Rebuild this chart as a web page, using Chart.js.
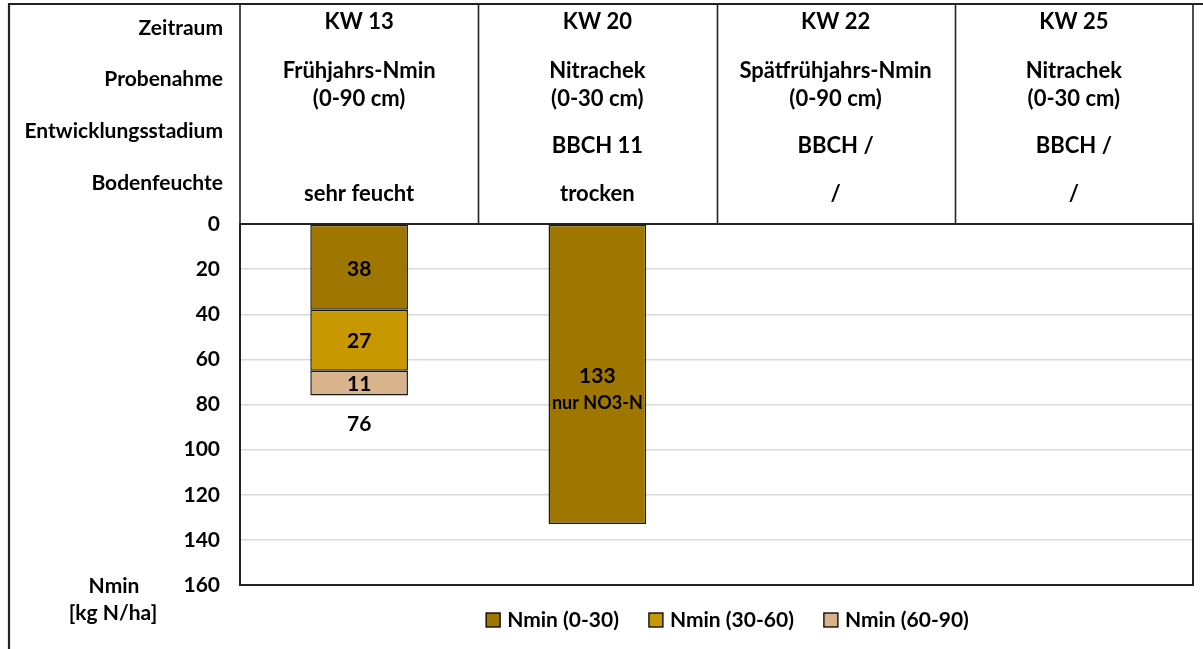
<!DOCTYPE html>
<html>
<head>
<meta charset="utf-8">
<script src="https://cdn.jsdelivr.net/npm/chart.js@4.4.1/dist/chart.umd.min.js"></script>
<style>
  html, body { margin: 0; padding: 0; background: #ffffff; }
  #wrap { width: 1203px; height: 649px; position: relative; }
</style>
</head>
<body>
<div id="wrap"><canvas id="chart" width="1203" height="649"></canvas></div>
<script>
// Sampling dates and header rows
const categories = ['KW 13', 'KW 20', 'KW 22', 'KW 25'];
const rowLabels = ['Zeitraum', 'Probenahme', 'Entwicklungsstadium', 'Bodenfeuchte'];
const probenahme = [
  ['Frühjahrs-Nmin', '(0-90 cm)'],
  ['Nitrachek', '(0-30 cm)'],
  ['Spätfrühjahrs-Nmin', '(0-90 cm)'],
  ['Nitrachek', '(0-30 cm)']
];
const stadium = ['', 'BBCH 11', 'BBCH /', 'BBCH /'];
const bodenfeuchte = ['sehr feucht', 'trocken', '/', '/'];

// Nmin per soil layer [kg N/ha]
const seriesNames = ['Nmin (0-30)', 'Nmin (30-60)', 'Nmin (60-90)'];
const nmin0to30 = [38, 133, null, null];
const nmin30to60 = [27, null, null, null];
const nmin60to90 = [11, null, null, null];
const barNotes = ['', 'nur NO3-N', '', ''];

// Value axis
const yMin = 0, yMax = 160, yStep = 20;
const yTitle = ['Nmin', '[kg N/ha]'];

const colors = ['#9E7600', '#C79800', '#D8B38C'];
const FONT = 'Lato, "Open Sans", sans-serif';
const INK = '#000000';
const LINE = '#222222';

// Header table, outer frame, plot border, labels and legend
const decorPlugin = {
  id: 'decor',
  afterDatasetsDraw(chart) {
    const ctx = chart.ctx;
    const area = chart.chartArea;
    const xs = chart.scales.x;
    const n = categories.length;
    const colW = (area.right - area.left) / n;
    const headTop = 4;

    ctx.save();
    // outer frame (top and left edges)
    ctx.strokeStyle = LINE;
    ctx.lineWidth = 2.2;
    ctx.beginPath();
    ctx.moveTo(9, chart.height);
    ctx.lineTo(9, headTop);
    ctx.lineTo(chart.width, headTop);
    ctx.stroke();

    // header table cells
    ctx.lineWidth = 1.6;
    ctx.strokeRect(area.left, headTop, area.right - area.left, area.top - headTop);
    for (let i = 1; i < n; i++) {
      const x = Math.round(area.left + colW * i) + 0.5;
      ctx.beginPath();
      ctx.moveTo(x, headTop);
      ctx.lineTo(x, area.top);
      ctx.stroke();
    }
    // plot border
    ctx.lineWidth = 2;
    ctx.strokeRect(area.left, area.top, area.right - area.left, area.bottom - area.top);

    // header row labels
    ctx.fillStyle = INK;
    ctx.textBaseline = 'middle';
    ctx.font = 'bold 21px ' + FONT;
    ctx.textAlign = 'right';
    const rowY = [28, 79, 131, 183];
    rowLabels.forEach((t, i) => ctx.fillText(t, area.left - 17, rowY[i]));

    // header cell contents
    ctx.font = 'bold 22px ' + FONT;
    ctx.textAlign = 'center';
    categories.forEach((c, i) => {
      const cx = xs.getPixelForValue(i);
      ctx.fillText(c, cx, 22);
      ctx.fillText(probenahme[i][0], cx, 71);
      ctx.fillText(probenahme[i][1], cx, 99);
      if (stadium[i]) ctx.fillText(stadium[i], cx, 146);
      ctx.fillText(bodenfeuchte[i], cx, 194);
    });

    // axis title
    ctx.font = 'bold 21px ' + FONT;
    ctx.fillText(yTitle[0], 114, 586);
    ctx.fillText(yTitle[1], 113, 613);

    // values inside segments
    const totals = categories.map(() => ({ sum: 0, count: 0, bottom: 0 }));
    chart.data.datasets.forEach((ds, di) => {
      const meta = chart.getDatasetMeta(di);
      meta.data.forEach((bar, i) => {
        const v = ds.data[i];
        if (v === null || v === undefined) return;
        const { x, y, base } = bar.getProps(['x', 'y', 'base'], true);
        const cy = (y + base) / 2 + 1.5;
        ctx.font = 'bold 21px ' + FONT;
        ctx.fillStyle = INK;
        ctx.fillText(String(v), x, cy);
        if (barNotes[i]) {
          ctx.font = 'bold 18px ' + FONT;
          ctx.fillText(barNotes[i], x, cy + 27);
        }
        totals[i].sum += v;
        totals[i].count += 1;
        totals[i].bottom = Math.max(totals[i].bottom, y, base);
      });
    });
    // stack totals below multi-layer bars
    ctx.font = 'bold 21px ' + FONT;
    totals.forEach((t, i) => {
      if (t.count > 1) ctx.fillText(String(t.sum), xs.getPixelForValue(i), t.bottom + 29);
    });

    // legend
    ctx.font = 'bold 21px ' + FONT;
    const box = 14, gapText = 7, gapItem = 30;
    const widths = seriesNames.map(s => box + gapText + ctx.measureText(s).width);
    const total = widths.reduce((a, b) => a + b, 0) + gapItem * (seriesNames.length - 1);
    let lx = (area.left + area.right) / 2 + 11 - total / 2;
    const ly = 620;
    ctx.textAlign = 'left';
    seriesNames.forEach((s, i) => {
      ctx.fillStyle = colors[i];
      ctx.fillRect(lx, ly - box / 2, box, box);
      ctx.lineWidth = 1.3;
      ctx.strokeStyle = INK;
      ctx.strokeRect(lx, ly - box / 2, box, box);
      ctx.fillStyle = INK;
      ctx.fillText(s, lx + box + gapText, ly);
      lx += widths[i] + gapItem;
    });
    ctx.restore();
  }
};

const mkDataset = (label, data, color) => ({
  label,
  data,
  backgroundColor: color,
  borderColor: '#1a1a1a',
  borderWidth: 1.5,
  borderSkipped: false,
  barPercentage: 0.41,
  categoryPercentage: 1.0
});

new Chart(document.getElementById('chart'), {
  type: 'bar',
  data: {
    labels: categories,
    datasets: [
      mkDataset(seriesNames[0], nmin0to30, colors[0]),
      mkDataset(seriesNames[1], nmin30to60, colors[1]),
      mkDataset(seriesNames[2], nmin60to90, colors[2])
    ]
  },
  options: {
    responsive: false,
    animation: false,
    devicePixelRatio: 1,
    layout: { padding: { top: 224, right: 10, bottom: 64, left: 0 } },
    plugins: {
      legend: { display: false },
      tooltip: { enabled: false },
      title: { display: false }
    },
    scales: {
      x: { stacked: true, display: false },
      y: {
        stacked: true,
        reverse: true,
        min: yMin,
        max: yMax,
        afterFit(scale) { scale.width = 240; },
        ticks: {
          stepSize: yStep,
          color: INK,
          padding: 20,
          font: { family: FONT, size: 21, weight: 'bold' }
        },
        grid: { color: '#d9d9d9', lineWidth: 1.5, drawTicks: false },
        border: { display: false }
      }
    }
  },
  plugins: [decorPlugin]
});
</script>
</body>
</html>
